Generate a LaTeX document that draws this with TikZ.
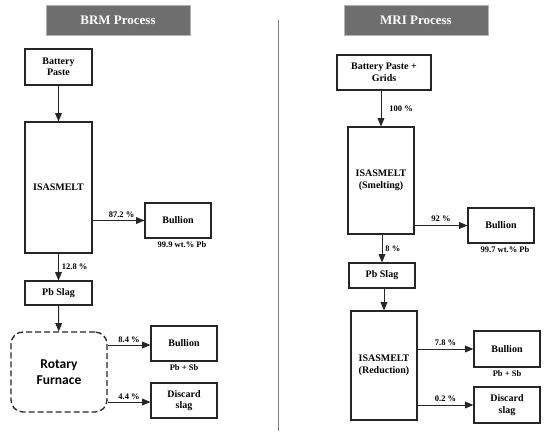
\documentclass[tikz,border=0pt]{standalone}
\usepackage{fontspec}
\setmainfont{Liberation Serif}[BoldFont={Liberation Serif Bold}]
\newfontfamily\furnacefont{Carlito}
\usetikzlibrary{arrows,shapes}
\usetikzlibrary{positioning}
\usetikzlibrary{calc}

\begin{document}
\begin{tikzpicture}[x=1pt, y=-1pt,
  unit/.style={draw=black!85, line width=1.2pt, inner sep=1pt, align=center,
    font=\fontsize{10}{11.5}\selectfont\bfseries},
  header/.style={draw=gray!60, fill=black!57, line width=0.8pt, text=white,
    minimum width=144pt, minimum height=30pt, font=\fontsize{13}{15}\selectfont\bfseries},
  flow/.style={draw=black!85, line width=0.9pt, -triangle 45},
  pct/.style={font=\fontsize{8.5}{10}\selectfont\bfseries, inner sep=2pt},
  note/.style={font=\fontsize{8.5}{10}\selectfont\bfseries, inner sep=2pt}]

\useasboundingbox (0,0) rectangle (550,441);

% BRM side
\node[header] (hdrL) at (118,20) {BRM Process};
\node[unit, minimum width=67pt, minimum height=36pt] (pasteL) at (58.5,67) {Battery\\Paste};
\node[unit, minimum width=67pt, minimum height=131pt] (smeltL) at (58.5,187.5) {ISASMELT};
\node[unit, minimum width=66pt, minimum height=35pt] (bullL1) at (178,220.5) {Bullion};
\node[note, below=1pt of bullL1, xshift=4pt] (pbL1) {99.9 wt.\% Pb};
\node[unit, minimum width=67pt, minimum height=24pt] (slagL) at (58.5,293) {Pb Slag};
\node[draw=black!85, line width=1.3pt, dash pattern=on 6pt off 3pt, rounded corners=12pt,
  minimum width=96pt, minimum height=80pt, align=center,
  font=\furnacefont\fontsize{13.5}{16}\selectfont\bfseries] (rotary) at (59,372) {Rotary\\Furnace};
\node[unit, minimum width=66pt, minimum height=35pt] (bullL2) at (184,343.5) {Bullion};
\node[note, below=1pt of bullL2] (sbL) {Pb + Sb};
\node[unit, minimum width=66pt, minimum height=35pt] (discL) at (184,400.5) {Discard\\slag};

\draw[flow] (pasteL) -- (smeltL);
\draw[flow] (smeltL.east |- bullL1) -- node[pct, above, xshift=3pt] {87.2 \%} (bullL1.west);
\draw[flow] (smeltL) -- node[pct, right, xshift=1pt] {12.8 \%} (slagL);
\draw[flow] (slagL) -- (rotary);
\draw[flow] ($(rotary.east |- bullL2)+(0,1.5)$) -- node[pct, above] {8.4 \%} ($(bullL2.west)+(0,1.5)$);
\draw[flow] ($(rotary.east |- discL)+(0,1.5)$) -- node[pct, above] {4.4 \%} ($(discL.west)+(0,1.5)$);

% divider
\draw[gray, line width=1pt] (278,20) -- (278,431);

% MRI side
\node[header] (hdrR) at (416,20) {MRI Process};
\node[unit, minimum width=94pt, minimum height=35pt] (pasteR) at (384,72.5) {Battery Paste +\\Grids};
\node[unit, minimum width=66pt, minimum height=107pt] (smeltR) at (381,180.5) {ISASMELT\\(Smelting)};
\node[unit, minimum width=66pt, minimum height=35pt] (bullR1) at (501,225.5) {Bullion};
\node[note, below=1pt of bullR1, xshift=4pt] (pbR1) {99.7 wt.\% Pb};
\node[unit, minimum width=66pt, minimum height=25pt] (slagR) at (382,275.5) {Pb Slag};
\node[unit, minimum width=66pt, minimum height=109pt] (redR) at (384,365.5) {ISASMELT\\(Reduction)};
\node[unit, minimum width=66pt, minimum height=36pt] (bullR2) at (507,349) {Bullion};
\node[note, below=1pt of bullR2] (sbR) {Pb + Sb};
\node[unit, minimum width=66pt, minimum height=36pt] (discR) at (507,405) {Discard\\slag};

\draw[flow] (pasteR.south -| smeltR.north) -- node[pct, right, xshift=6pt] {100 \%} (smeltR.north);
\draw[flow] (smeltR.east |- bullR1) -- node[pct, above, yshift=1pt] {92 \%} (bullR1.west);
\draw[flow] (smeltR.south -| slagR.north) -- node[pct, right, xshift=1pt] {8 \%} (slagR.north);
\draw[flow] (slagR.south -| redR.north) -- (redR.north);
\draw[flow] (redR.east |- bullR2) -- node[pct, above, yshift=1pt] {7.8 \%} (bullR2.west);
\draw[flow] (redR.east |- discR) -- node[pct, above, yshift=1pt] {0.2 \%} (discR.west);

\end{tikzpicture}
\end{document}
